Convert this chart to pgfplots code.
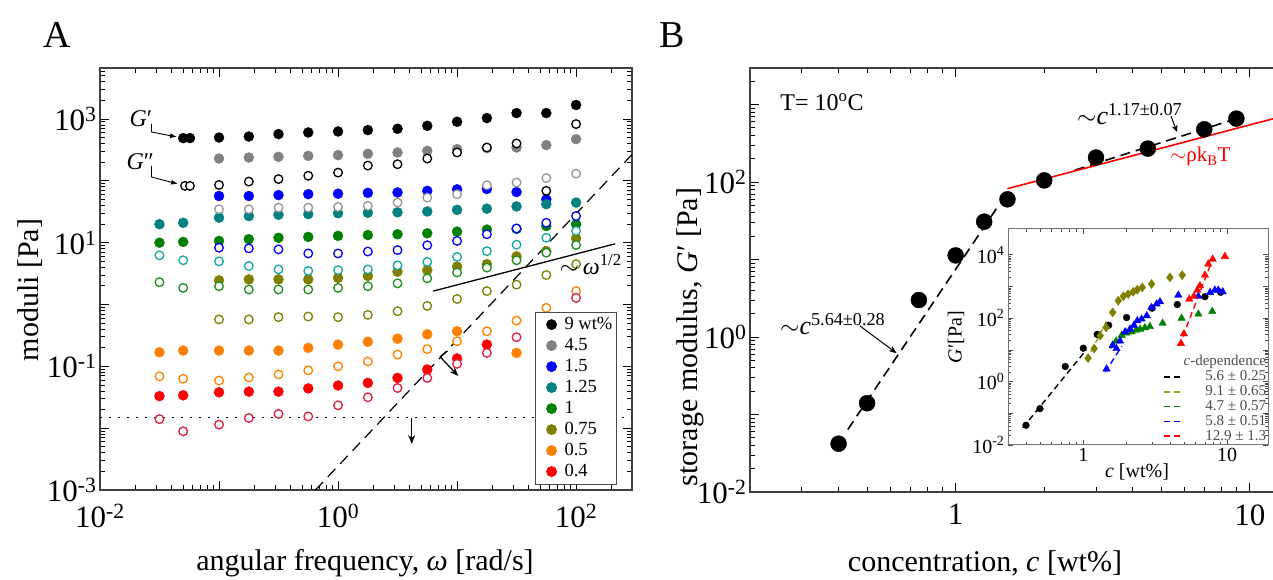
\documentclass[border=0pt]{standalone}
\usepackage{pgfplots}
\pgfplotsset{compat=1.18}
\usepackage{fontspec}
\setmainfont{Liberation Serif}
\usetikzlibrary{arrows.meta}
\definecolor{cgrey}{RGB}{128,128,128}
\definecolor{cgreyo}{RGB}{150,150,150}
\definecolor{cblue}{RGB}{0,0,255}
\definecolor{cteal}{RGB}{0,128,128}
\definecolor{ctealo}{RGB}{20,165,165}
\definecolor{cgreen}{RGB}{0,128,0}
\definecolor{cgreeno}{RGB}{30,140,30}
\definecolor{colive}{RGB}{128,128,0}
\definecolor{corange}{RGB}{255,128,0}
\definecolor{cred}{RGB}{255,0,0}
\definecolor{credo}{RGB}{225,30,60}
\definecolor{lolive}{RGB}{165,165,40}
\newcommand{\fs}[1]{\fontsize{#1}{#1}\selectfont}
\pgfplotsset{
  fillc/.style={only marks, mark=*, mark size=5pt, mark options={draw=#1, fill=#1},
    legend image code/.code={\path[draw=none, fill=none] (0pt,-5pt) rectangle (25pt,5pt); \draw[##1] plot coordinates {(14pt,0pt)};}},
  openc/.style={only marks, mark=*, mark size=4.3pt, mark options={draw=#1, fill=white, line width=1.3pt}, forget plot},
}
\begin{document}
\begin{tikzpicture}[x=1pt,y=1pt]
\useasboundingbox (0,0) rectangle (1273,580);

%================ Panel A
\begin{axis}[
  at={(100pt,90pt)}, anchor=south west, scale only axis,
  width=532pt, height=422pt,
  xmode=log, ymode=log,
  xmin=0.01, xmax=295, ymin=0.001, ymax=6700,
  xtick={0.01,0.1,1,10,100},
  xticklabels={10\textsuperscript{-2},,10\textsuperscript{0},,10\textsuperscript{2}},
  minor xtick={0.02,0.03,0.04,0.05,0.06,0.07,0.08,0.09,0.2,0.3,0.4,0.5,0.6,0.7,0.8,0.9,2,3,4,5,6,7,8,9,20,30,40,50,60,70,80,90,200},
  ytick={0.001,0.01,0.1,1,10,100,1000},
  yticklabels={10\textsuperscript{-3},,10\textsuperscript{-1},,10\textsuperscript{1},,10\textsuperscript{3}},
  minor ytick={0.002,0.003,0.004,0.005,0.006,0.007,0.008,0.009,0.02,0.03,0.04,0.05,0.06,0.07,0.08,0.09,0.2,0.3,0.4,0.5,0.6,0.7,0.8,0.9,2,3,4,5,6,7,8,9,20,30,40,50,60,70,80,90,200,300,400,500,600,700,800,900,2000,3000,4000,5000,6000},
  tick align=inside,
  major tick length=9pt, minor tick length=5pt,
  every tick/.style={black, line width=0.9pt},
  axis line style={line width=1.3pt, black!75},
  ticklabel style={font=\fs{31}},
  xticklabel style={yshift=-11pt},
  legend style={at={(0.818,0.4225)}, anchor=north west, font=\fs{18.5}, draw=black!70, line width=0.8pt, fill=white, inner xsep=2pt, inner ysep=2pt, row sep=0pt,
    nodes={inner sep=2pt, text height=13pt, text depth=4pt}},
  legend cell align=left,
]
\addplot[fillc=black] coordinates {(0.1,503)(0.178,522)(0.316,571)(0.562,607)(1,630)(1.78,664)(3.16,697)(5.62,778)(10,904)(17.8,1037)(31.6,1250)(56.2,1250)(100,1690)};
\addlegendentry{9 wt\%}
\addplot[fillc=cgrey] coordinates {(0.1,230)(0.178,239)(0.316,245)(0.562,254)(1,261)(1.78,274)(3.16,288)(5.62,306)(10,326)(17.8,339)(31.6,347)(56.2,379)(100,474)};
\addlegendentry{4.5}
\addplot[fillc=cblue] coordinates {(0.1,57)(0.178,57)(0.316,59)(0.562,61)(1,62)(1.78,64)(3.16,65)(5.62,69)(10,73)(17.8,74)(31.6,66)(56.2,50)};
\addlegendentry{1.5}
\addplot[fillc=cteal] coordinates {(0.0316,19.9)(0.05,21)(0.1,25.4)(0.178,27)(0.316,28.3)(0.562,29)(1,30)(1.78,30.5)(3.16,31)(5.62,32)(10,34)(17.8,35.5)(31.6,38.6)(56.2,42)(100,44.6)};
\addlegendentry{1.25}
\addplot[fillc=cgreen] coordinates {(0.0316,10)(0.05,10.3)(0.1,10.7)(0.178,11.4)(0.316,12)(0.562,12.4)(1,12.9)(1.78,13.3)(3.16,13.7)(5.62,14.2)(10,15.1)(17.8,16.3)(31.6,16.7)(56.2,18.6)(100,19.9)};
\addlegendentry{1}
\addplot[fillc=colive] coordinates {(0.1,2.46)(0.178,2.55)(0.316,2.55)(0.562,2.55)(1,2.7)(1.78,2.9)(3.16,3.4)(5.62,3.6)(10,4.1)(17.8,4.5)(31.6,6)(56.2,7.3)(100,11.8)};
\addlegendentry{0.75}
\addplot[fillc=corange] coordinates {(0.0316,0.169)(0.05,0.18)(0.1,0.18)(0.178,0.18)(0.316,0.18)(0.562,0.199)(1,0.225)(1.78,0.25)(3.16,0.28)(5.62,0.33)(10,0.37)(31.6,0.165)};
\addlegendentry{0.5}
\addplot[fillc=cred] coordinates {(0.0316,0.033)(0.05,0.034)(0.1,0.038)(0.178,0.039)(0.316,0.039)(0.562,0.044)(1,0.049)(1.78,0.054)(3.16,0.065)(5.62,0.089)(10,0.134)(17.8,0.225)};
\addlegendentry{0.4}
% open symbols (G'')
\addplot[openc=black] coordinates {(0.1,86)(0.178,97.5)(0.316,107)(0.562,121)(1,136)(1.78,177)(3.16,186)(5.62,230)(10,288)(17.8,347)(31.6,403)(56.2,69)(100,830)};
\addplot[openc=cgreyo] coordinates {(0.1,34.8)(0.178,34.8)(0.316,36.9)(0.562,36.9)(1,37.9)(1.78,39.4)(3.16,44.6)(5.62,53.6)(10,60.8)(17.8,85)(31.6,94)(56.2,111)(100,131)};
\addplot[openc=cblue] coordinates {(0.1,8.3)(0.178,8.1)(0.316,7.8)(0.562,6.7)(1,6.7)(1.78,7.2)(3.16,7.6)(5.62,9.1)(10,10.7)(17.8,13.7)(31.6,17)(56.2,21)(100,27)};
\addplot[openc=ctealo] coordinates {(0.0316,6.25)(0.05,5.2)(0.1,5.0)(0.178,4.2)(0.316,3.7)(0.562,3.5)(1,3.6)(1.78,3.7)(3.16,4.3)(5.62,4.9)(10,5.9)(17.8,7.3)(31.6,9.3)(56.2,12)(100,15.5)};
\addplot[openc=cgreeno] coordinates {(0.0316,2.3)(0.05,1.86)(0.1,1.98)(0.178,1.75)(0.316,1.75)(0.562,1.75)(1,1.86)(1.78,1.98)(3.16,2.2)(5.62,2.65)(10,3.3)(17.8,3.95)(31.6,5.2)(56.2,6.9)(100,9.2)};
\addplot[openc=colive] coordinates {(0.1,0.574)(0.178,0.574)(0.316,0.625)(0.562,0.64)(1,0.625)(1.78,0.68)(3.16,0.78)(5.62,0.95)(10,1.23)(17.8,1.65)(31.6,2.1)(56.2,3.0)(100,4.5)};
\addplot[openc=corange] coordinates {(0.0316,0.069)(0.05,0.063)(0.1,0.059)(0.178,0.066)(0.316,0.074)(0.562,0.086)(1,0.1)(1.78,0.12)(3.16,0.155)(5.62,0.19)(10,0.255)(17.8,0.37)(31.6,0.55)(56.2,0.885)(100,1.65)};
\addplot[openc=credo] coordinates {(0.0316,0.014)(0.05,0.0089)(0.1,0.0114)(0.178,0.0146)(0.316,0.017)(0.562,0.0155)(1,0.0234)(1.78,0.0316)(3.16,0.0447)(5.62,0.065)(10,0.11)(17.8,0.165)(31.6,0.296)(100,1.28)};
% symbol keys next to G' and G''
\addplot[fillc=black, forget plot] coordinates {(0.050,492)(0.057,492)};
\addplot[openc=black] coordinates {(0.0518,83)(0.057,83)};
% guide lines
\addplot[black, line width=1.2pt, dash pattern=on 1.6pt off 7.4pt, forget plot] coordinates {(0.01,0.015)(295,0.015)};
\addplot[black, line width=1.2pt, dash pattern=on 11pt off 7pt, forget plot] coordinates {(0.646,0.001)(295,267)};
\addplot[black, line width=1.3pt, forget plot] coordinates {(6.3,1.65)(213,9.6)};
\end{axis}

%================ Panel B
\begin{axis}[
  at={(750pt,88pt)}, anchor=south west, scale only axis,
  width=541pt, height=424pt,
  xmode=log, ymode=log,
  xmin=0.2, xmax=13.8, ymin=0.01, ymax=2960,
  xtick={1,10}, xticklabels={1,10},
  minor xtick={0.3,0.4,0.5,0.6,0.7,0.8,0.9,2,3,4,5,6,7,8,9},
  ytick={0.01,0.1,1,10,100,1000},
  yticklabels={10\textsuperscript{-2},,10\textsuperscript{0},,10\textsuperscript{2},},
  minor ytick={0.02,0.03,0.04,0.05,0.06,0.07,0.08,0.09,0.2,0.3,0.4,0.5,0.6,0.7,0.8,0.9,2,3,4,5,6,7,8,9,20,30,40,50,60,70,80,90,200,300,400,500,600,700,800,900,2000},
  tick align=inside,
  major tick length=9pt, minor tick length=5pt,
  every tick/.style={black, line width=0.9pt},
  axis line style={line width=1.3pt, black!75},
  ticklabel style={font=\fs{31}},
  xticklabel style={yshift=-9pt},
]
\addplot[black, line width=1.6pt, dash pattern=on 10pt off 6pt] coordinates {(0.43,0.064)(1.41,52)};
\addplot[black, line width=1.6pt, dash pattern=on 10pt off 6pt] coordinates {(2.54,142)(9.0,658)};
\addplot[cred, line width=1.6pt] coordinates {(1.5,82)(13.8,754)};
\addplot[only marks, mark=*, mark size=8pt, mark options={draw=black, fill=black}] coordinates {(0.4,0.042)(0.5,0.14)(0.75,3.0)(1,11.3)(1.25,30.8)(1.5,59.8)(2,105)(3,207)(4.5,270)(7,479)(9,658)};
\end{axis}

%================ Inset
\begin{axis}[
  at={(1008pt,135pt)}, anchor=south west, scale only axis,
  width=260pt, height=216pt,
  axis background/.style={fill=white},
  xmode=log, ymode=log,
  xmin=0.3, xmax=19.2, ymin=0.01, ymax=65200,
  xtick={1,10}, xticklabels={1,10},
  minor xtick={0.4,0.5,0.6,0.7,0.8,0.9,2,3,4,5,6,7,8,9},
  ytick={0.01,0.1,1,10,100,1000,10000},
  yticklabels={10\textsuperscript{-2},,10\textsuperscript{0},,10\textsuperscript{2},,10\textsuperscript{4}},
  tick align=inside,
  major tick length=5pt, minor tick length=3pt,
  every tick/.style={black!70, line width=0.7pt},
  axis line style={line width=1pt, black!55},
  ticklabel style={font=\fs{20}},
  legend style={at={(1,0)}, anchor=south east, draw=none, fill=none, font=\fs{15}, text=black!70,
    inner sep=1pt, row sep=0pt, nodes={inner sep=0.7pt, text height=10.5pt, text depth=3pt}},
  legend cell align=right,
  legend image code/.code={\draw[#1, line width=1.8pt, dash pattern=on 6pt off 4pt] (0pt,0pt) -- (18pt,0pt);},
]
\addlegendimage{empty legend}
\addlegendentry{\textit{c}-dependence}
\addplot[black, line width=1.4pt, dash pattern=on 6pt off 4pt] coordinates {(0.38,0.035)(1.05,10)};
\addlegendentry{5.6 ± 0.25}
\addplot[lolive, line width=1.4pt, dash pattern=on 6pt off 4pt] coordinates {(1.05,4.5)(1.45,80)};
\addlegendentry{9.1 ± 0.65}
\addplot[cgreen, line width=1.4pt, dash pattern=on 6pt off 4pt] coordinates {(1.55,11)(2.1,46)};
\addlegendentry{4.7 ± 0.57}
\addplot[cblue, line width=1.4pt, dash pattern=on 6pt off 4pt] coordinates {(1.42,2.0)(1.85,13)};
\addlegendentry{5.8 ± 0.51}
\addplot[cred, line width=1.4pt, dash pattern=on 6pt off 4pt] coordinates {(4.64,13.4)(7.6,4500)};
\addlegendentry{12.9 ± 1.3}
\addplot[only marks, mark=*, mark size=3.4pt, mark options={draw=black, fill=black}, forget plot] coordinates {(0.4,0.042)(0.5,0.14)(0.75,3.0)(1,11.3)(1.25,30.8)(1.5,59.8)(2,105)(3,207)(4.5,270)(7,479)(9,658)};
\addplot[only marks, mark=diamond*, mark size=4.5pt, mark options={draw=colive, fill=colive}, forget plot] coordinates {(1.08,5.5)(1.19,11)(1.31,28)(1.44,51)(1.6,152)(1.75,355)(1.9,490)(2.05,575)(2.22,680)(2.37,790)(2.57,935)(2.98,1200)(4.0,1940)(4.87,2290)};
\addplot[only marks, mark=triangle*, mark size=4.3pt, mark options={draw=cgreen, fill=cgreen}, forget plot] coordinates {(1.61,14)(1.69,19)(1.85,29)(2.0,34)(2.17,37)(2.32,42)(2.48,45)(2.68,50)(2.9,55)(3.56,70)(4.82,100)(6.3,135)(7.87,164)};
\addplot[only marks, mark=triangle*, mark size=4.3pt, mark options={draw=cblue, fill=cblue}, forget plot] coordinates {(1.45,2.5)(1.6,14)(1.7,11)(1.8,19)(1.95,37)(2.11,45)(2.25,60)(2.37,83)(2.54,94)(2.76,120)(2.98,218)(3.23,280)(3.41,330)(4.57,535)(6.3,490)(7.6,650)(8.2,770)(8.66,770)(9.3,680)};
\addplot[only marks, mark=triangle*, mark size=4.3pt, mark options={draw=cred, fill=cred}, forget plot] coordinates {(4.77,16)(5.0,32)(5.45,400)(5.87,490)(6.2,770)(6.46,1050)(7.0,2290)(7.38,5100)(7.92,7300)(9.64,8900)};
\end{axis}

%================ Annotations (picture coordinates)
\node[font=\fs{38}, anchor=center] at (57,545) {A};
\node[font=\fs{38}, anchor=center] at (672,545) {B};
% panel A labels
\node[font=\fs{30}, rotate=90, anchor=center] at (30,290) {moduli [Pa]};
\node[font=\fs{30}, anchor=center] at (365,17) {angular frequency, \textit{ω} [rad/s]};
\node[font=\fs{24}, anchor=base west] at (126,453) {\textit{G}′};
\draw[line width=0.9pt, -{Latex[length=7pt,width=5pt]}] (151.5,456) -- (151.5,448) -- (177,443);
\node[font=\fs{24}, anchor=base west] at (123,410) {\textit{G}″};
\draw[line width=0.9pt, -{Latex[length=7pt,width=5pt]}] (151.5,414) -- (151.5,403) -- (178,396);
\node[font=\fs{24}, anchor=base west] at (556,305) {$\sim$\,\textit{ω}\textsuperscript{1/2}};
\draw[line width=1.2pt, -{Stealth[length=9pt,width=7pt]}] (411.7,162) -- (411.7,136);
\draw[line width=1.2pt] (440,223.3) -- (447.5,229);
\draw[line width=1.2pt, -{Stealth[length=9pt,width=7pt]}] (440,223.3) -- (458.3,204);
% panel B labels
\node[font=\fs{30}, rotate=90, anchor=center] at (690,243) {storage modulus, \textit{G}′ [Pa]};
\node[font=\fs{30}, anchor=center] at (985,17) {concentration, \textit{c} [wt\%]};
\node[font=\fs{24}, anchor=center] at (822,478) {T= 10\textsuperscript{o}C};
\node[font=\fs{26}, anchor=base west, inner sep=0pt] at (1077,455) {$\sim$\textit{c}\textsuperscript{1.17±0.07}};
\draw[line width=1pt, -{Stealth[length=7pt,width=6pt]}] (1171,464) -- (1177,448);
\node[font=\fs{21}, anchor=base west, inner sep=0pt, text=cred] at (1170,418) {$\sim$ρk\textsubscript{B}T};
\node[font=\fs{26}, anchor=base west, inner sep=0pt] at (780,245) {$\sim$\textit{c}\textsuperscript{5.64±0.28}};
\draw[line width=1pt, -{Stealth[length=8pt,width=6pt]}] (860,254) -- (896.7,226.7);
% inset labels
\node[font=\fs{20}, rotate=90, anchor=center] at (956,243) {\textit{G}′[Pa]};
\node[font=\fs{20}, anchor=center] at (1137,108) {\textit{c} [wt\%]};
\end{tikzpicture}
\end{document}
